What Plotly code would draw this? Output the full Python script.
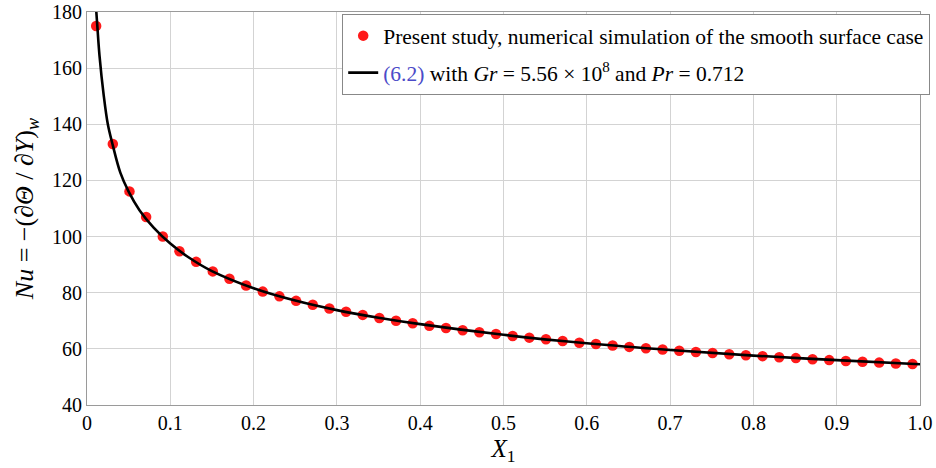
import plotly.graph_objects as go

# Data points: present study
x_pts = [0.011, 0.031, 0.051, 0.071, 0.091, 0.111, 0.131, 0.151, 0.171, 0.191,
         0.211, 0.231, 0.251, 0.271, 0.291, 0.311, 0.331, 0.351, 0.371, 0.391,
         0.411, 0.431, 0.451, 0.471, 0.491, 0.511, 0.531, 0.551, 0.571, 0.591,
         0.611, 0.631, 0.651, 0.671, 0.691, 0.711, 0.731, 0.751, 0.771, 0.791,
         0.811, 0.831, 0.851, 0.871, 0.891, 0.911, 0.931, 0.951, 0.971, 0.991]
nu_pts = [175.0, 133.0, 116.1, 107.0, 100.0, 94.8, 91.0, 87.6, 85.0, 82.6,
          80.4, 78.7, 77.1, 75.7, 74.4, 73.2, 72.1, 71.0, 70.0, 69.1,
          68.2, 67.4, 66.6, 65.9, 65.3, 64.6, 64.0, 63.4, 62.8, 62.2,
          61.7, 61.2, 60.7, 60.2, 59.8, 59.3, 58.9, 58.5, 58.1, 57.7,
          57.4, 57.0, 56.7, 56.3, 56.0, 55.7, 55.4, 55.1, 54.8, 54.6]

# Correlation (6.2) curve
x_line = [0.0112, 0.0125, 0.015, 0.02, 0.025, 0.031, 0.04, 0.05, 0.063, 0.08,
          0.1, 0.12, 0.15, 0.2, 0.25, 0.3, 0.35, 0.4, 0.5, 0.6, 0.7, 0.8, 0.9, 1.0]
nu_line = [180.0, 174.5, 164.5, 150.5, 140.0, 132.5, 122.8, 116.0, 109.4, 103.2,
           97.5, 93.0, 87.7, 81.6, 77.2, 73.8, 71.1, 68.8, 65.0, 62.0, 59.6, 57.6, 56.0, 54.5]

x_ticks = [0, 0.1, 0.2, 0.3, 0.4, 0.5, 0.6, 0.7, 0.8, 0.9, 1.0]
x_tick_labels = ["0", "0.1", "0.2", "0.3", "0.4", "0.5", "0.6", "0.7", "0.8", "0.9", "1.0"]
y_ticks = [40, 60, 80, 100, 120, 140, 160, 180]

FONT = "Liberation Serif"

fig = go.Figure()
fig.add_trace(go.Scatter(
    x=x_pts, y=nu_pts, mode="markers",
    marker=dict(color="#ff1a1a", size=10.5),
    name="Present study, numerical simulation of the smooth surface case",
    legendgroup="a",
))
fig.add_trace(go.Scatter(
    x=x_line, y=nu_line, mode="lines", line=dict(color="black", width=2.6, shape="spline"),
    name="<span style='color:#4b4bc8'>(6.2)</span> with <i>Gr</i> = 5.56 × 10<sup>8</sup> and <i>Pr</i> = 0.712",
    legendgroup="b",
))

fig.update_layout(
    width=936, height=468,
    margin=dict(l=87, r=16, t=12, b=63, autoexpand=False),
    paper_bgcolor="white", plot_bgcolor="white",
    font=dict(family=FONT, size=20, color="black"),
    showlegend=True,
    legend=dict(
        x=1.012, y=0.995, xanchor="right", yanchor="top",
        bgcolor="white", bordercolor="#888888", borderwidth=1.2,
        font=dict(family=FONT, size=21.5, color="black"),
        traceorder="grouped", tracegroupgap=6,
        itemwidth=30,
    ),
    xaxis=dict(
        range=[0, 1.0], tickvals=x_ticks, ticktext=x_tick_labels,
        showgrid=True, gridcolor="#d3d3d3", gridwidth=1,
        showline=True, linecolor="#9a9a9a", linewidth=1.2, mirror=True,
        zeroline=False, ticks="", tickfont=dict(family=FONT, size=20),
        title=dict(text="<i>X</i><sub>1</sub>", font=dict(family=FONT, size=25), standoff=6),
    ),
    yaxis=dict(
        range=[40, 180], tickvals=y_ticks,
        showgrid=True, gridcolor="#d3d3d3", gridwidth=1,
        showline=True, linecolor="#9a9a9a", linewidth=1.2, mirror=True,
        zeroline=False, ticks="", tickfont=dict(family=FONT, size=20),
        title=dict(text="<i>Nu</i> = −(∂<i>Θ</i> / ∂<i>Y</i>)<sub><i>w</i></sub>",
                   font=dict(family=FONT, size=26), standoff=10),
    ),
)

fig.write_html("out.html")
